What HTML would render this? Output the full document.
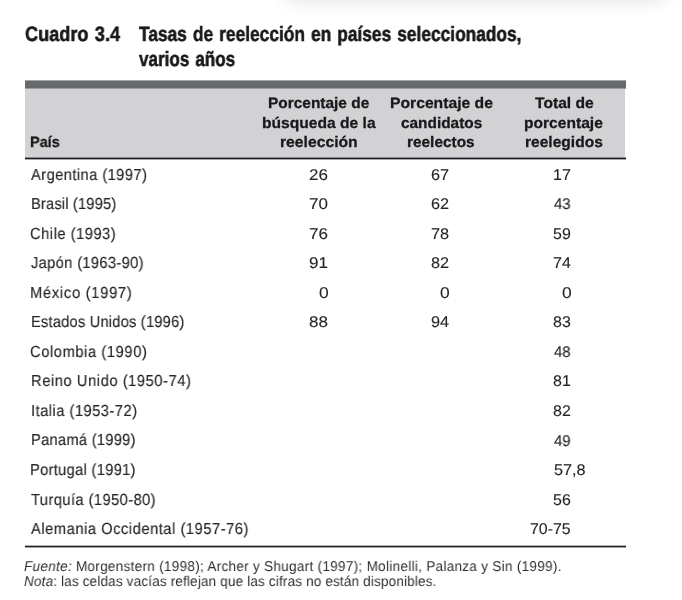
<!DOCTYPE html>
<html><head><meta charset="utf-8">
<style>
html,body{margin:0;padding:0;width:682px;height:600px;overflow:hidden;background:#fff;}
body{position:relative;font-family:"Liberation Sans",sans-serif;color:#2e2e2e;text-rendering:geometricPrecision;}
.t{will-change:transform;}
.t{position:absolute;white-space:nowrap;line-height:1;transform-origin:0 0;}
.b{font-weight:bold;color:#19191c;}
.r{text-align:right;}
.c{text-align:center;}
.shadow{position:absolute;left:283px;top:-40px;width:384px;height:40px;background:#fff;border-radius:14px;
  box-shadow:0 0 16px 3px rgba(0,0,0,0.09);}
.bar{position:absolute;left:25px;top:80px;width:601px;height:9px;
  background:linear-gradient(to bottom,#a4a5a7 0,#a4a5a7 1px,#68696b 1px,#68696b 8px,#9d9ea0 8px,#9d9ea0 9px);}
.hbg{position:absolute;left:25px;top:89px;width:600px;height:68px;background:#d2d2d4;}
.hl{position:absolute;left:25px;top:157px;width:601px;height:3px;
  background:linear-gradient(to bottom,#8c8c8f 0,#8c8c8f 1px,#1c1c1f 1px,#1c1c1f 2px,#a8a8aa 2px,#a8a8aa 3px);}
.bl{position:absolute;left:25px;top:545px;width:601px;height:3px;
  background:linear-gradient(to bottom,#b4b4b4 0,#b4b4b4 1px,#1c1c1c 1px,#1c1c1c 2px,#a4a4a4 2px,#a4a4a4 3px);}
.title{font-size:20.8px;-webkit-text-stroke:0.55px #19191c;word-spacing:1.5px;}
.hd{font-size:15.2px;-webkit-text-stroke:0.28px #19191c;}
.d{font-size:16px;color:#262626;-webkit-text-stroke:0.15px #262626;}
.num{font-size:15.5px;-webkit-text-stroke:0.12px #262626;}
.f{font-size:14.2px;color:#2e2e2e;}
</style></head>
<body>
<div class="shadow"></div>
<div class="bar"></div>
<div class="hbg"></div>
<div class="hl"></div>
<div class="bl"></div>
<div class="t b title" style="left:25.14px;top:25px;transform:scaleX(0.8723)">Cuadro 3.4</div>
<div class="t b title" style="left:138.75px;top:25px;transform:scaleX(0.8331)">Tasas de reelección en países seleccionados,</div>
<div class="t b title" style="left:139.00px;top:50px;transform:scaleX(0.8215)">varios años</div>
<div class="t b hd" style="left:30.17px;top:135px;transform:scaleX(0.9530)">País</div>
<div class="t b hd" style="left:268.30px;top:96px;transform:scaleX(1.0166)">Porcentaje de</div>
<div class="t b hd" style="left:261.86px;top:116px;transform:scaleX(1.0273)">búsqueda de la</div>
<div class="t b hd" style="left:279.54px;top:135px;transform:scaleX(1.0339)">reelección</div>
<div class="t b hd" style="left:389.85px;top:96px;transform:scaleX(1.0330)">Porcentaje de</div>
<div class="t b hd" style="left:400.57px;top:116px;transform:scaleX(1.0134)">candidatos</div>
<div class="t b hd" style="left:406.88px;top:135px;transform:scaleX(1.0134)">reelectos</div>
<div class="t b hd" style="left:535.12px;top:96px;transform:scaleX(1.0287)">Total de</div>
<div class="t b hd" style="left:523.97px;top:116px;transform:scaleX(1.0268)">porcentaje</div>
<div class="t b hd" style="left:524.90px;top:135px;transform:scaleX(1.0248)">reelegidos</div>
<div class="t d nm" style="left:30.92px;top:168px;letter-spacing:0.453px;transform:scaleX(0.9200)">Argentina (1997)</div>
<div class="t d num" style="left:309.40px;top:168px;transform:scaleX(1.0989)">26</div>
<div class="t d num" style="left:431.48px;top:168px;transform:scaleX(1.0497)">67</div>
<div class="t d num" style="left:553.42px;top:168px;transform:scaleX(1.0302)">17</div>
<div class="t d nm" style="left:31.08px;top:197px;letter-spacing:0.159px;transform:scaleX(0.9200)">Brasil (1995)</div>
<div class="t d num" style="left:309.43px;top:197px;transform:scaleX(1.0946)">70</div>
<div class="t d num" style="left:431.49px;top:197px;transform:scaleX(1.0497)">62</div>
<div class="t d num" style="left:554.45px;top:197px;transform:scaleX(0.9658)">43</div>
<div class="t d nm" style="left:30.16px;top:227px;letter-spacing:0.543px;transform:scaleX(0.9200)">Chile (1993)</div>
<div class="t d num" style="left:309.40px;top:227px;transform:scaleX(1.0989)">76</div>
<div class="t d num" style="left:431.49px;top:227px;transform:scaleX(1.0497)">78</div>
<div class="t d num" style="left:553.45px;top:227px;transform:scaleX(1.0302)">59</div>
<div class="t d nm" style="left:31.00px;top:256px;letter-spacing:0.349px;transform:scaleX(0.9200)">Japón (1963-90)</div>
<div class="t d num" style="left:309.40px;top:256px;transform:scaleX(1.0989)">91</div>
<div class="t d num" style="left:431.49px;top:256px;transform:scaleX(1.0497)">82</div>
<div class="t d num" style="left:553.45px;top:256px;transform:scaleX(1.0302)">74</div>
<div class="t d nm" style="left:30.08px;top:286px;letter-spacing:0.770px;transform:scaleX(0.9200)">México (1997)</div>
<div class="t d num" style="left:318.68px;top:286px;transform:scaleX(1.1231)">0</div>
<div class="t d num" style="left:440.49px;top:286px;transform:scaleX(1.1231)">0</div>
<div class="t d num" style="left:562.03px;top:286px;transform:scaleX(1.1231)">0</div>
<div class="t d nm" style="left:31.08px;top:315px;letter-spacing:0.190px;transform:scaleX(0.9200)">Estados Unidos (1996)</div>
<div class="t d num" style="left:309.40px;top:315px;transform:scaleX(1.0989)">88</div>
<div class="t d num" style="left:431.48px;top:315px;transform:scaleX(1.0497)">94</div>
<div class="t d num" style="left:553.45px;top:315px;transform:scaleX(1.0302)">83</div>
<div class="t d nm" style="left:29.70px;top:345px;letter-spacing:0.621px;transform:scaleX(0.9200)">Colombia (1990)</div>
<div class="t d num" style="left:554.45px;top:345px;transform:scaleX(0.9658)">48</div>
<div class="t d nm" style="left:31.00px;top:374px;letter-spacing:0.598px;transform:scaleX(0.9200)">Reino Unido (1950-74)</div>
<div class="t d num" style="left:553.45px;top:374px;transform:scaleX(1.0302)">81</div>
<div class="t d nm" style="left:31.00px;top:404px;letter-spacing:0.507px;transform:scaleX(0.9200)">Italia (1953-72)</div>
<div class="t d num" style="left:553.45px;top:404px;transform:scaleX(1.0302)">82</div>
<div class="t d nm" style="left:31.00px;top:433px;letter-spacing:0.272px;transform:scaleX(0.9200)">Panamá (1999)</div>
<div class="t d num" style="left:554.45px;top:434px;transform:scaleX(0.9658)">49</div>
<div class="t d nm" style="left:30.31px;top:463px;letter-spacing:0.311px;transform:scaleX(0.9200)">Portugal (1991)</div>
<div class="t d num" style="left:553.84px;top:463px;transform:scaleX(1.0485)">57,8</div>
<div class="t d nm" style="left:31.00px;top:493px;letter-spacing:0.442px;transform:scaleX(0.9200)">Turquía (1950-80)</div>
<div class="t d num" style="left:553.45px;top:493px;transform:scaleX(1.0302)">56</div>
<div class="t d nm" style="left:30.92px;top:522px;letter-spacing:0.563px;transform:scaleX(0.9200)">Alemania Occidental (1957-76)</div>
<div class="t d num" style="left:530.12px;top:522px;transform:scaleX(1.0243)">70-75</div>
<div class="t f" style="left:24.14px;top:560px;letter-spacing:0.332px;transform:scaleX(0.9500)"><i>Fuente:</i> Morgenstern (1998); Archer y Shugart (1997); Molinelli, Palanza y Sin (1999).</div>
<div class="t f" style="left:24.14px;top:575px;letter-spacing:0.190px;transform:scaleX(0.9500)"><i>Nota</i>: las celdas vacías reflejan que las cifras no están disponibles.</div>
</body></html>
